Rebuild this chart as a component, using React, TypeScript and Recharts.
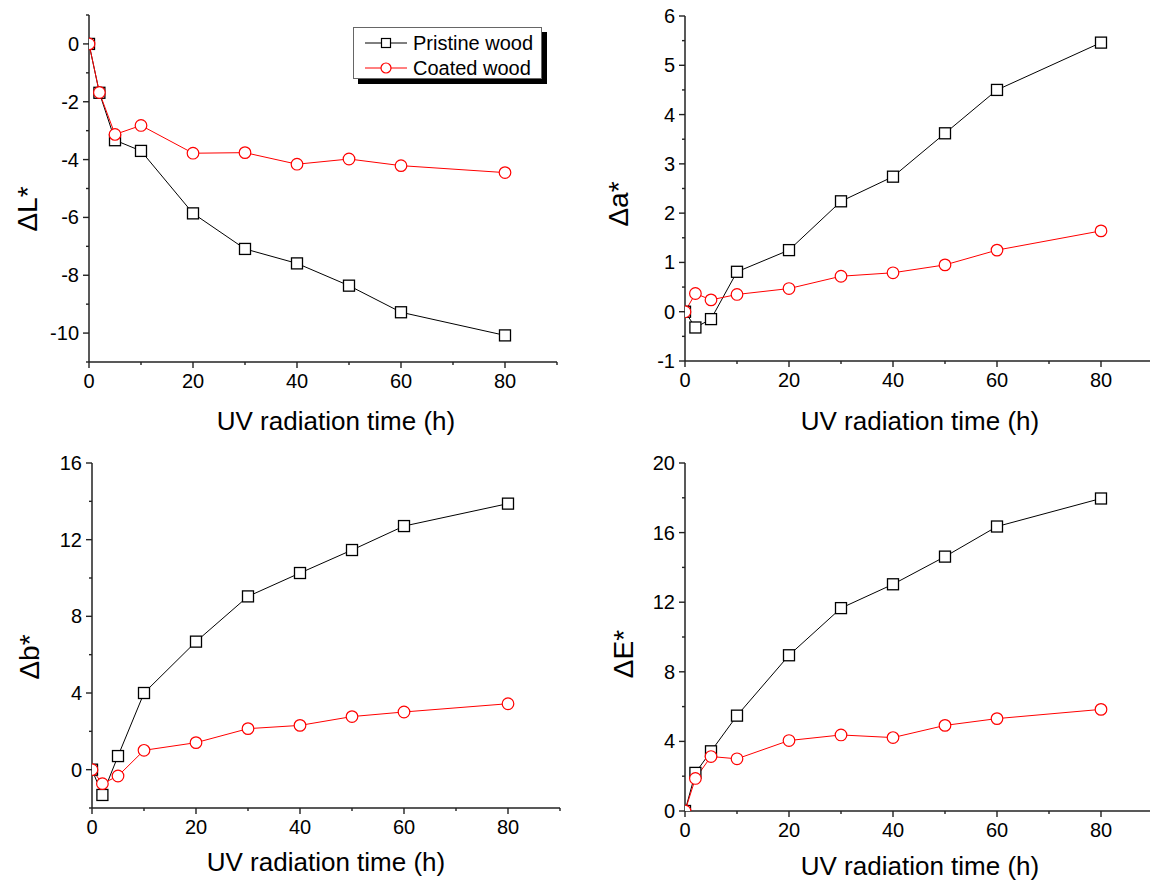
import React from 'react';
import { LineChart, Line, XAxis, YAxis, Label } from 'recharts';

// ---------- data ----------
const timeH = [0, 2, 5, 10, 20, 30, 40, 50, 60, 80];

const dLPristine = [0, -1.69, -3.33, -3.7, -5.86, -7.09, -7.59, -8.36, -9.28, -10.08];
const dLCoated = [0, -1.68, -3.13, -2.82, -3.78, -3.76, -4.16, -3.98, -4.21, -4.45];

const daPristine = [0, -0.32, -0.15, 0.81, 1.25, 2.24, 2.74, 3.62, 4.5, 5.46];
const daCoated = [0, 0.37, 0.24, 0.35, 0.47, 0.72, 0.79, 0.95, 1.25, 1.64];

const dbPristine = [0, -1.32, 0.71, 4.0, 6.68, 9.04, 10.26, 11.46, 12.71, 13.88];
const dbCoated = [0, -0.73, -0.33, 1.01, 1.41, 2.14, 2.31, 2.77, 3.01, 3.44];

const dEPristine = [0, 2.19, 3.43, 5.48, 8.95, 11.66, 13.03, 14.62, 16.35, 17.96];
const dECoated = [0, 1.87, 3.13, 3.0, 4.05, 4.37, 4.22, 4.92, 5.31, 5.84];

const xTicks = [0, 10, 20, 30, 40, 50, 60, 70, 80, 90];
const xMajor = [0, 20, 40, 60, 80];

const dLTicks = [-11, -10, -9, -8, -7, -6, -5, -4, -3, -2, -1, 0, 1];
const dLMajor = [-10, -8, -6, -4, -2, 0];
const daTicks = [-1, -0.5, 0, 0.5, 1, 1.5, 2, 2.5, 3, 3.5, 4, 4.5, 5, 5.5, 6];
const daMajor = [-1, 0, 1, 2, 3, 4, 5, 6];
const dbTicks = [-2, 0, 2, 4, 6, 8, 10, 12, 14, 16];
const dbMajor = [0, 4, 8, 12, 16];
const dETicks = [0, 2, 4, 6, 8, 10, 12, 14, 16, 18, 20];
const dEMajor = [0, 4, 8, 12, 16, 20];

const seriesNames = ['Pristine wood', 'Coated wood'];
const xTitle = 'UV radiation time (h)';

// ---------- styling ----------
const FONT = "'Liberation Sans', Arial, Helvetica, sans-serif";
const AXIS = '#222';
const RED = '#ff0000';
const TICK_FS = 20;
const TITLE_FS = 26;
const YLABEL_FS = 28;

const makeTick = (side: 'bottom' | 'left' | 'top' | 'right', majors: number[], label: boolean) => (props: any) => {
  const { x, y, payload, index } = props;
  const v = payload.value;
  const major = majors.some((m) => Math.abs(m - v) < 1e-9);
  const outLen = major ? 6 : 3;
  const inLen = major ? 4 : 2;
  let line: any = null;
  let text: any = null;
  if (side === 'bottom') {
    line = <line x1={x} y1={y} x2={x} y2={y + outLen} stroke={AXIS} strokeWidth={1.4} />;
    if (label && major)
      text = (
        <text x={x} y={y + 26} textAnchor="middle" fontSize={TICK_FS} fontFamily={FONT} fill="#000">
          {v}
        </text>
      );
  } else if (side === 'left') {
    line = <line x1={x - outLen} y1={y} x2={x} y2={y} stroke={AXIS} strokeWidth={1.4} />;
    if (label && major)
      text = (
        <text x={x - 10} y={y + 7} textAnchor="end" fontSize={TICK_FS} fontFamily={FONT} fill="#000">
          {v}
        </text>
      );
  } else if (side === 'top') {
    line = <line x1={x} y1={y} x2={x} y2={y + inLen} stroke={AXIS} strokeWidth={1.2} />;
  } else {
    line = <line x1={x} y1={y} x2={x - inLen} y2={y} stroke={AXIS} strokeWidth={1.2} />;
  }
  return (
    <g key={`${side}-${index}`}>
      {line}
      {text}
    </g>
  );
};

const SquareDot = (props: any) => {
  const { cx, cy, index } = props;
  if (cx == null || cy == null) return <g key={`sq-${index}`} />;
  return (
    <rect
      key={`sq-${index}`}
      x={cx - 5.5}
      y={cy - 5.5}
      width={11}
      height={11}
      fill="#fff"
      stroke="#000"
      strokeWidth={1.3}
    />
  );
};

type PanelSpec = {
  left: number;
  top: number;
  width: number;
  height: number;
  plot: { l: number; r: number; t: number; b: number };
  yDomain: [number, number];
  yTicks: number[];
  yMajor: number[];
  yLabel: string;
  yLabelPos: { x: number; y: number };
  xTitlePos: { x: number; y: number };
  pristine: number[];
  coated: number[];
};

const YW = 60;
const XH = 60;

const Panel = ({ spec }: { spec: PanelSpec }) => {
  const data = timeH.map((t, i) => ({ t, p: spec.pristine[i], c: spec.coated[i] }));
  const margin = {
    left: spec.plot.l - spec.left - YW,
    top: spec.plot.t - spec.top,
    right: spec.left + spec.width - spec.plot.r,
    bottom: spec.top + spec.height - spec.plot.b - XH,
  };
  const ylx = spec.yLabelPos.x - spec.left;
  const yly = spec.yLabelPos.y - spec.top;
  const xtx = spec.xTitlePos.x - spec.left;
  const xty = spec.xTitlePos.y - spec.top;
  return (
    <div style={{ position: 'absolute', left: spec.left, top: spec.top }}>
      <LineChart width={spec.width} height={spec.height} data={data} margin={margin}>
        <XAxis
          xAxisId="b"
          dataKey="t"
          type="number"
          domain={[0, 90]}
          ticks={xTicks}
          interval={0}
          allowDataOverflow
          height={XH}
          tickSize={0}
          tickMargin={0}
          tickLine={false}
          axisLine={{ stroke: AXIS, strokeWidth: 1.5 }}
          tick={makeTick('bottom', xMajor, true)}
        >
          <Label
            content={() => (
              <text
                x={xtx}
                y={xty}
                textAnchor="middle"
                dominantBaseline="central"
                fontSize={TITLE_FS}
                fontFamily={FONT}
                fill="#000"
              >
                {xTitle}
              </text>
            )}
          />
        </XAxis>
        <XAxis
          xAxisId="t"
          orientation="top"
          type="number"
          domain={[0, 90]}
          ticks={xTicks}
          interval={0}
          allowDataOverflow
          height={0}
          tickSize={0}
          tickMargin={0}
          tickLine={false}
          axisLine={{ stroke: AXIS, strokeWidth: 1.5 }}
          tick={makeTick('top', xMajor, false)}
        />
        <YAxis
          yAxisId="l"
          type="number"
          domain={spec.yDomain}
          ticks={spec.yTicks}
          interval={0}
          allowDataOverflow
          width={YW}
          tickSize={0}
          tickMargin={0}
          tickLine={false}
          axisLine={{ stroke: AXIS, strokeWidth: 1.5 }}
          tick={makeTick('left', spec.yMajor, true)}
        >
          <Label
            content={() => (
              <text
                x={ylx}
                y={yly}
                transform={`rotate(-90 ${ylx} ${yly})`}
                textAnchor="middle"
                dominantBaseline="central"
                fontSize={YLABEL_FS}
                fontFamily={FONT}
                fill="#000"
              >
                {spec.yLabel}
              </text>
            )}
          />
        </YAxis>
        <YAxis
          yAxisId="r"
          orientation="right"
          type="number"
          domain={spec.yDomain}
          ticks={spec.yTicks}
          interval={0}
          allowDataOverflow
          width={0}
          tickSize={0}
          tickMargin={0}
          tickLine={false}
          axisLine={{ stroke: AXIS, strokeWidth: 1.5 }}
          tick={makeTick('right', spec.yMajor, false)}
        />
        <Line
          xAxisId="b"
          yAxisId="l"
          dataKey="p"
          name={seriesNames[0]}
          type="linear"
          stroke="#000"
          strokeWidth={1}
          dot={SquareDot}
          isAnimationActive={false}
        />
        <Line
          xAxisId="b"
          yAxisId="l"
          dataKey="c"
          name={seriesNames[1]}
          type="linear"
          stroke={RED}
          strokeWidth={1}
          dot={{ r: 5.8, fill: '#fff', stroke: RED, strokeWidth: 1.2 }}
          isAnimationActive={false}
        />
      </LineChart>
    </div>
  );
};

const panels: PanelSpec[] = [
  {
    left: 0,
    top: 0,
    width: 575,
    height: 444,
    plot: { l: 89, r: 557, t: 15, b: 362 },
    yDomain: [-11, 1],
    yTicks: dLTicks,
    yMajor: dLMajor,
    yLabel: 'ΔL*',
    yLabelPos: { x: 27, y: 209 },
    xTitlePos: { x: 336, y: 421 },
    pristine: dLPristine,
    coated: dLCoated,
  },
  {
    left: 575,
    top: 0,
    width: 600,
    height: 444,
    plot: { l: 685, r: 1153, t: 16, b: 361 },
    yDomain: [-1, 6],
    yTicks: daTicks,
    yMajor: daMajor,
    yLabel: 'Δa*',
    yLabelPos: { x: 618, y: 204 },
    xTitlePos: { x: 920, y: 421 },
    pristine: daPristine,
    coated: daCoated,
  },
  {
    left: 0,
    top: 444,
    width: 575,
    height: 444,
    plot: { l: 92, r: 560, t: 463, b: 808 },
    yDomain: [-2, 16],
    yTicks: dbTicks,
    yMajor: dbMajor,
    yLabel: 'Δb*',
    yLabelPos: { x: 29, y: 657 },
    xTitlePos: { x: 326, y: 862 },
    pristine: dbPristine,
    coated: dbCoated,
  },
  {
    left: 575,
    top: 444,
    width: 600,
    height: 444,
    plot: { l: 685, r: 1153, t: 463, b: 811 },
    yDomain: [0, 20],
    yTicks: dETicks,
    yMajor: dEMajor,
    yLabel: 'ΔE*',
    yLabelPos: { x: 623, y: 654 },
    xTitlePos: { x: 920, y: 866 },
    pristine: dEPristine,
    coated: dECoated,
  },
];

const LegendBox = () => (
  <div style={{ position: 'absolute', left: 353, top: 27, width: 189, height: 52 }}>
    <div
      style={{
        position: 'absolute',
        left: 5,
        top: 5,
        width: 189,
        height: 52,
        background: '#000',
      }}
    />
    <div
      style={{
        position: 'absolute',
        left: 0,
        top: 0,
        width: 187,
        height: 50,
        background: '#fff',
        border: '1px solid #666',
      }}
    >
      {seriesNames.map((name, i) => (
        <div
          key={name}
          style={{
            position: 'absolute',
            left: 11,
            top: 3 + i * 25,
            height: 24,
            display: 'flex',
            alignItems: 'center',
            whiteSpace: 'nowrap',
          }}
        >
          <svg width={46} height={24} style={{ display: 'block' }}>
            <line x1={0} y1={12} x2={42} y2={12} stroke={i === 0 ? '#000' : RED} strokeWidth={1} />
            {i === 0 ? (
              <rect x={16.5} y={7.5} width={9} height={9} fill="#fff" stroke="#000" strokeWidth={1.2} />
            ) : (
              <circle cx={21} cy={12} r={5} fill="#fff" stroke={RED} strokeWidth={1.2} />
            )}
          </svg>
          <span style={{ fontFamily: FONT, fontSize: 20, color: '#000', marginLeft: 2 }}>{name}</span>
        </div>
      ))}
    </div>
  </div>
);

export default function App() {
  return (
    <div
      style={{
        position: 'absolute',
        left: 0,
        top: 0,
        width: 1150,
        height: 888,
        overflow: 'hidden',
        background: '#fff',
      }}
    >
      {panels.map((p, i) => (
        <Panel key={i} spec={p} />
      ))}
      <LegendBox />
    </div>
  );
}
